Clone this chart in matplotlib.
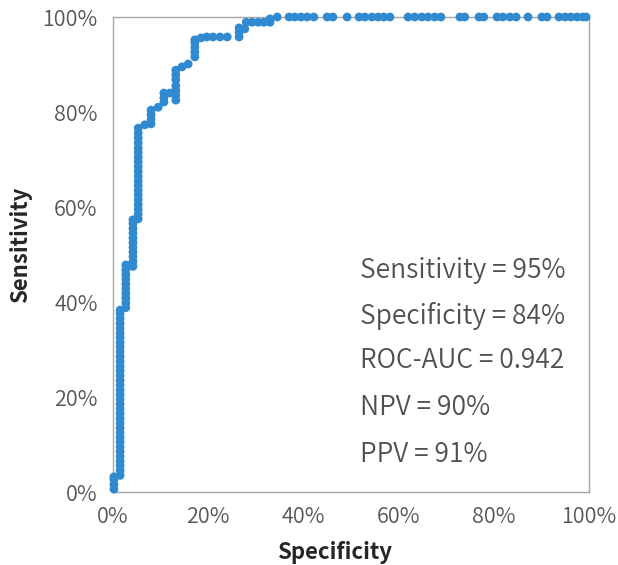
import matplotlib.pyplot as plt
from matplotlib import font_manager as fm
from matplotlib.ticker import PercentFormatter

# ROC points (percent)
run0_x = 0.2
run0_y = [0.6, 1.6, 2.6, 3.2]
run1_x = 1.5
run1_y = [3.5, 4.5, 5.5, 6.5, 7.5, 8.5, 9.5, 10.5, 11.5, 12.5, 13.5, 14.5,
          15.5, 16.5, 17.5, 18.5, 19.5, 20.5, 21.5, 22.5, 23.5, 24.5, 25.5,
          26.5, 27.5, 28.5, 29.5, 30.5, 31.5, 32.5, 33.5, 34.5, 35.5, 36.5,
          37.5, 38.3]
run2_x = 2.7
run2_y = [38.8, 39.8, 40.8, 41.8, 42.8, 43.8, 44.8, 45.8, 46.8, 47.8]
run3_x = 4.2
run3_y = [47.5, 48.5, 49.5, 50.5, 51.5, 52.5, 53.5, 54.5, 55.5, 56.5, 57.3]
run4_x = 5.3
run4_y = [57.5, 58.5, 59.5, 60.5, 61.5, 62.5, 63.5, 64.5, 65.5, 66.5, 67.5,
          68.5, 69.5, 70.5, 71.5, 72.4, 73.5, 74.6, 75.6, 76.6]

upper_x = [6.7, 8.0, 8.0, 8.0, 8.0, 9.5, 10.7, 10.7, 10.7, 12.0,
           13.2, 13.2, 13.2, 13.2, 13.2, 13.2, 13.2, 14.5, 15.8,
           17.2, 17.2, 17.2, 17.2, 17.2, 18.5, 19.7, 21.0, 22.5, 24.0,
           26.5, 26.5, 26.5, 27.7, 28.0, 29.2, 30.5, 31.7, 33.0, 33.0]
upper_y = [77.3, 77.5, 78.5, 79.5, 80.4, 81.0, 82.1, 83.0, 84.0, 84.0,
           82.5, 83.5, 84.5, 85.5, 86.8, 87.8, 88.8, 89.5, 90.1,
           91.6, 92.6, 93.6, 94.6, 95.2, 95.6, 95.8, 95.8, 95.8, 95.8,
           95.8, 96.8, 97.7, 97.5, 98.9, 98.9, 98.9, 98.9, 98.9, 99.6]

top_x = [34.5, 37.0, 38.2, 39.5, 40.8, 42.2, 45.0, 46.2, 49.2, 51.7, 52.9,
         54.4, 55.7, 56.9, 58.2, 62.0, 63.4, 64.9, 66.2, 67.6, 68.9, 72.9,
         73.9, 76.9, 77.9, 80.7, 81.9, 83.4, 84.7, 87.2, 90.1, 91.2, 93.7,
         95.0, 96.2, 97.5, 98.7, 99.4]
top_y = [100.0] * len(top_x)

stats = ["Sensitivity = 95%", "Specificity = 84%", "ROC-AUC = 0.942",
         "NPV = 90%", "PPV = 91%"]
stats_y = [46.7, 37.1, 27.6, 17.7, 8.0]

xs = ([run0_x] * len(run0_y) + [run1_x] * len(run1_y) + [run2_x] * len(run2_y)
      + [run3_x] * len(run3_y) + [run4_x] * len(run4_y) + upper_x + top_x)
ys = run0_y + run1_y + run2_y + run3_y + run4_y + upper_y + top_y

plt.rcParams['font.family'] = ['Noto Sans CJK KR', 'DejaVu Sans']

# look for a light sans cut, else fall back to the regular CJK one
def wnum(w):
    named = {'thin': 100, 'extralight': 200, 'ultralight': 200, 'light': 300,
             'demilight': 350, 'normal': 400, 'regular': 400}
    return w if isinstance(w, int) else named.get(str(w).lower(), 400)

light = None
for fam in ('Noto Sans CJK KR', 'Noto Sans CJK JP', 'Noto Sans', 'Lato', 'Open Sans', 'Roboto'):
    for f in fm.fontManager.ttflist:
        if f.name == fam and wnum(f.weight) in (300, 350) and f.style == 'normal':
            light = fm.FontProperties(fname=f.fname)
            break
    if light is not None:
        break
if light is None:
    light = fm.FontProperties(family='Noto Sans CJK KR')

fig = plt.figure(figsize=(6.18, 5.65), dpi=100)
ax = fig.add_axes([0.1828, 0.1292, 0.7702, 0.8407])

ax.scatter(xs, ys, s=40, color='#318ACF', edgecolors='none', clip_on=False, zorder=3)

ax.set_xlim(0, 100)
ax.set_ylim(0, 100)
ax.set_xticks([0, 20, 40, 60, 80, 100])
ax.set_yticks([0, 20, 40, 60, 80, 100])
ax.xaxis.set_major_formatter(PercentFormatter(decimals=0))
ax.yaxis.set_major_formatter(PercentFormatter(decimals=0))
ax.tick_params(length=0, labelcolor='#555555')
ax.tick_params(axis='x', pad=10)
ax.tick_params(axis='y', pad=11)
for lbl in ax.get_xticklabels() + ax.get_yticklabels():
    lbl.set_fontproperties(light)
    lbl.set_fontsize(15.5)
for sp in ax.spines.values():
    sp.set_color('#a6a6a6')
    sp.set_linewidth(1)

ax.set_xlabel('Specificity', fontsize=16, fontweight='bold', color='#262626', va='center')
ax.set_ylabel('Sensitivity', fontsize=16, fontweight='bold', color='#262626', va='center')
ax.xaxis.set_label_coords(0.466, -0.128)
ax.yaxis.set_label_coords(-0.195, 0.52)

for s, y in zip(stats, stats_y):
    ax.text(52, y, s, fontproperties=light, fontsize=19, color='#505050', va='center')

fig.savefig('out.png', dpi=100)
